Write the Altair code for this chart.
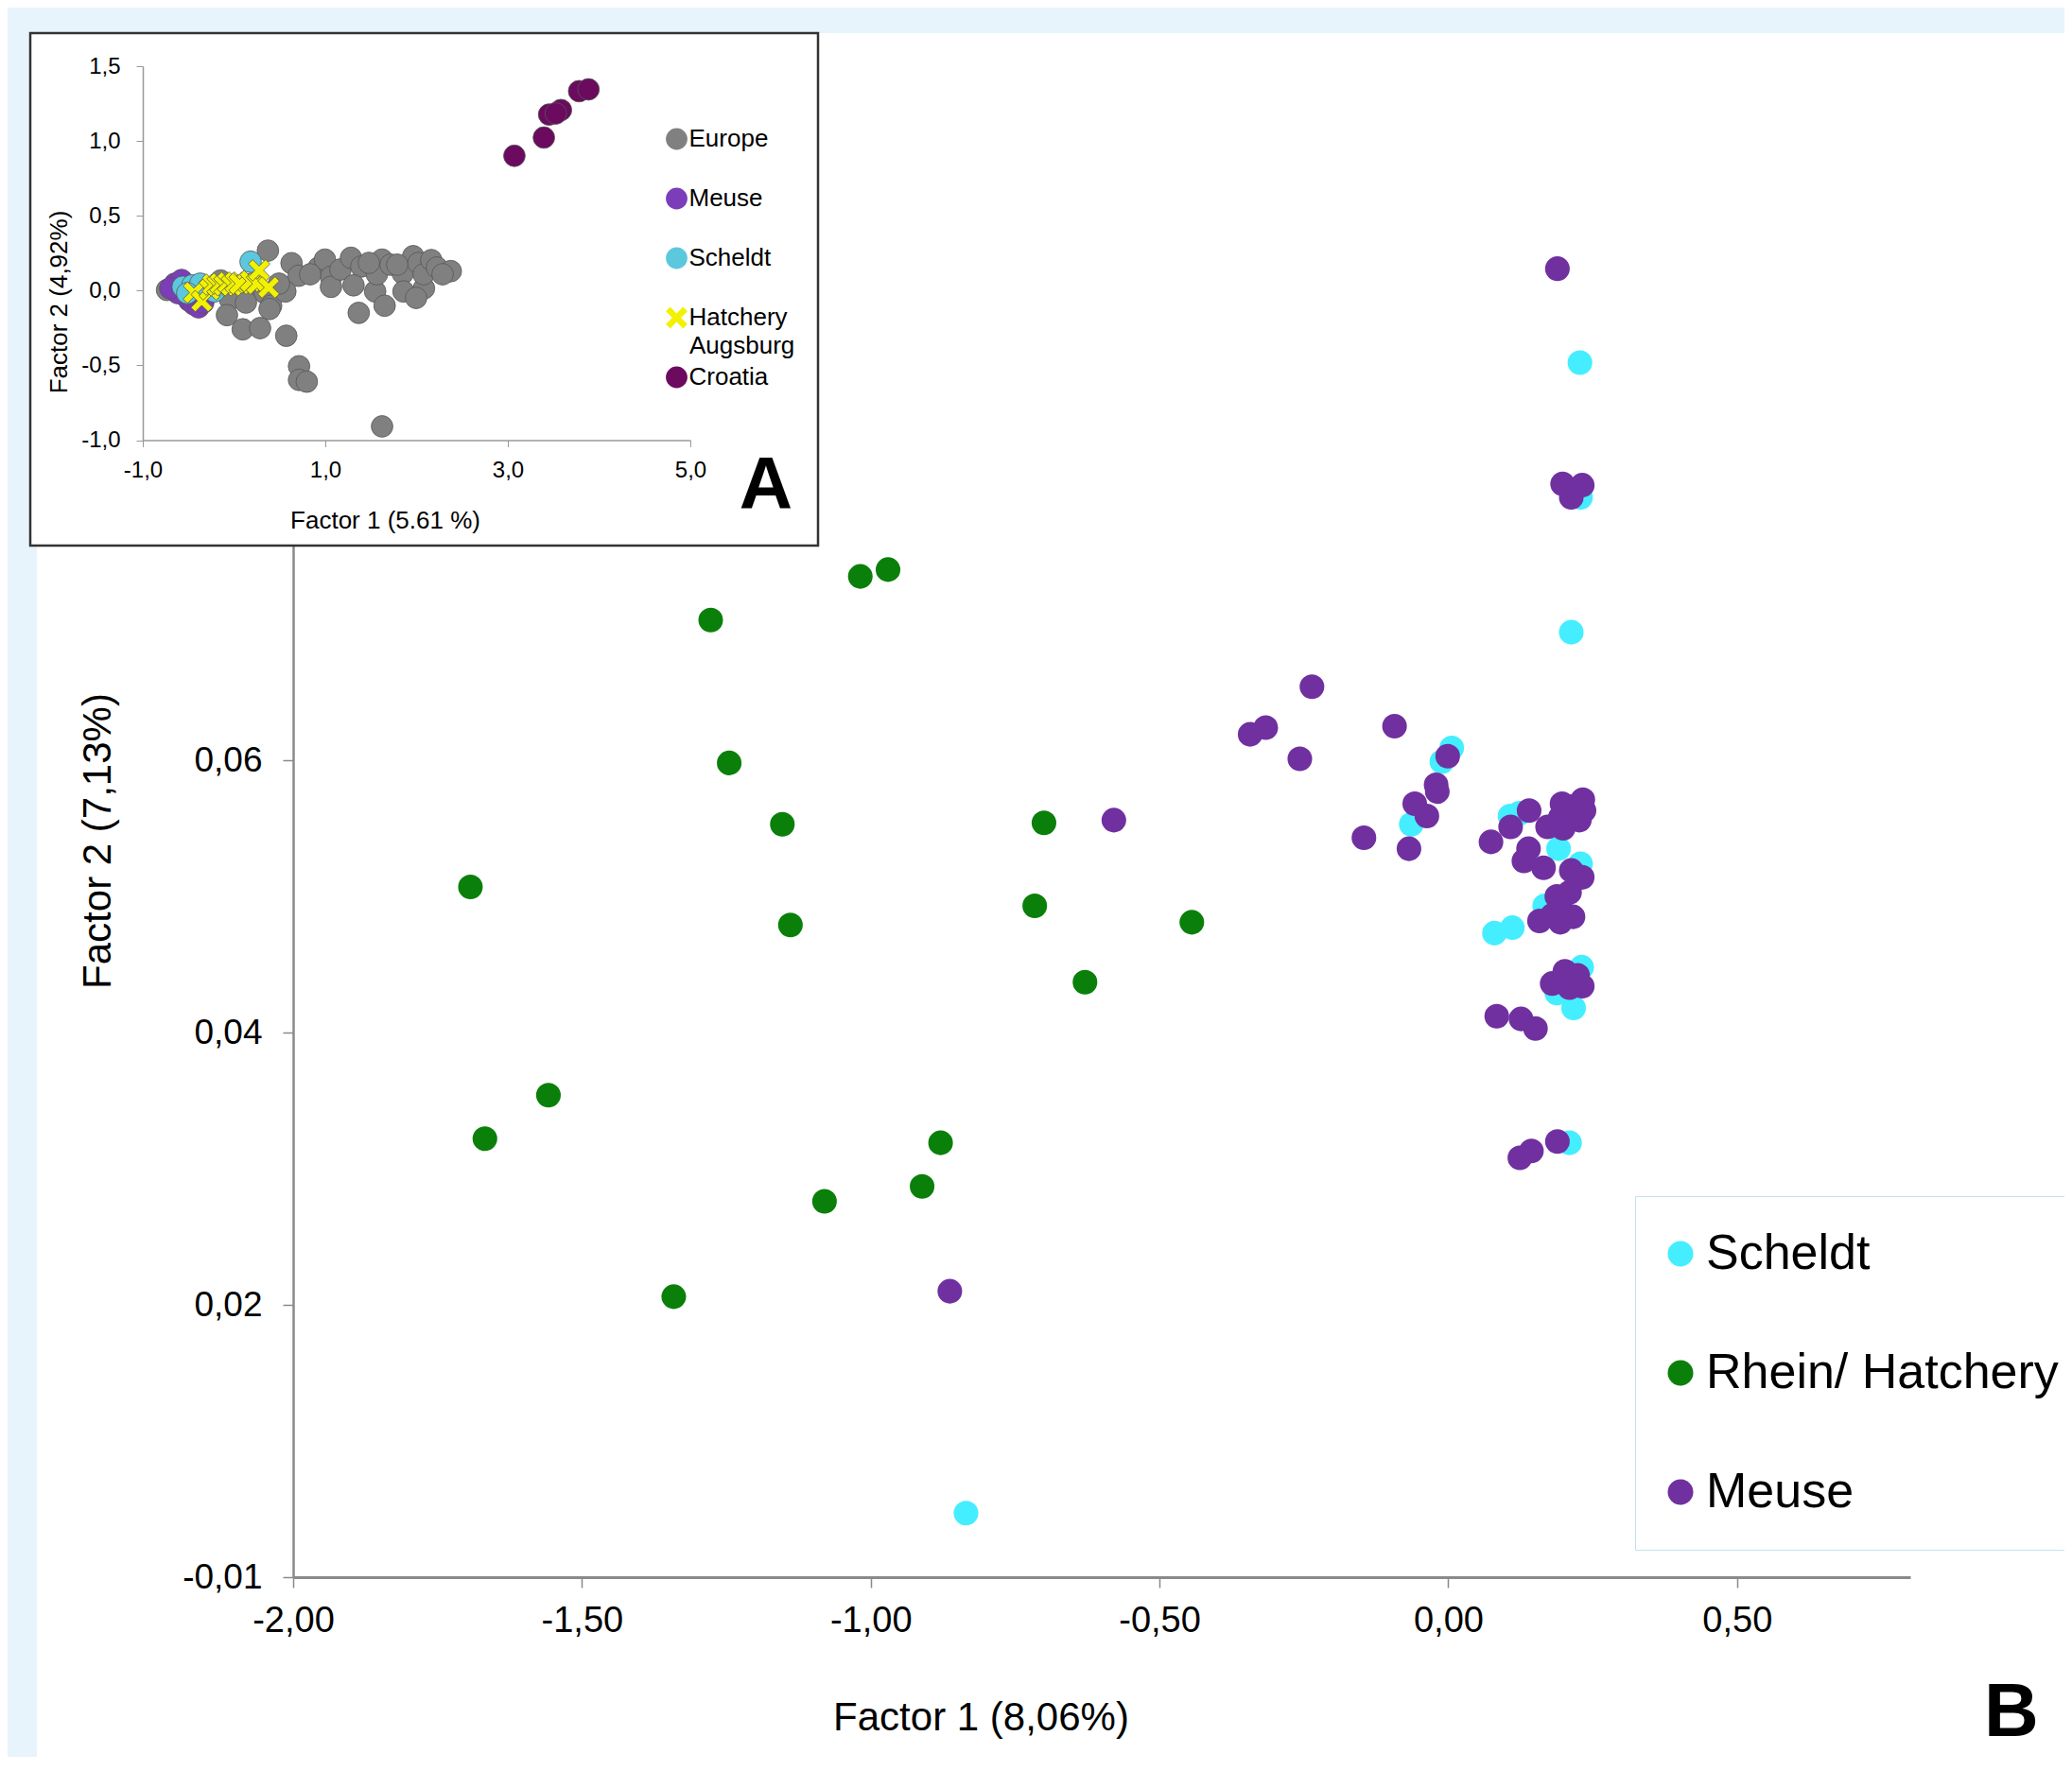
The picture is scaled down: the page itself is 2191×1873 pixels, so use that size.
import altair as alt
import pandas as pd

# ---------------- Panel B (main scatter) ----------------
scheldt_x = [0.228, 0.229, 0.213, 0.006, -0.011, -0.064, 0.107, 0.123, 0.191, 0.229,
             0.167, 0.080, 0.111, 0.231, 0.188, 0.217, 0.210, -0.835]
scheldt_y = [0.0892, 0.0793, 0.0694, 0.0609, 0.0599, 0.0553, 0.0559, 0.0561, 0.0535, 0.0524,
             0.0493, 0.0473, 0.0477, 0.0448, 0.0429, 0.0418, 0.0319, 0.0047]

rhein_x = [-1.018, -0.970, -1.277, -1.245, -1.153, -0.700, -1.693, -1.139, -0.716,
           -0.444, -0.629, -1.558, -1.668, -0.879, -1.080, -0.911, -1.341]
rhein_y = [0.0735, 0.0740, 0.0703, 0.0598, 0.0553, 0.0554, 0.0507, 0.0479, 0.0493,
           0.0481, 0.0437, 0.0354, 0.0322, 0.0319, 0.0276, 0.0287, 0.0206]

meuse_x = [0.189, 0.198, 0.232, 0.213,
           -0.236, -0.343, -0.316, -0.257,
           -0.093, -0.001, -0.021, -0.019, -0.058, -0.037, -0.146, -0.068, -0.579,
           0.074, 0.108, 0.140,
           0.197, 0.233, 0.235, 0.227, 0.199, 0.172, 0.194, 0.210,
           0.139, 0.131, 0.165, 0.213, 0.232, 0.188, 0.210, 0.194,
           0.158, 0.194, 0.216, 0.180,
           0.180, 0.202, 0.224, 0.232, 0.210,
           0.084, 0.126, 0.151,
           0.189, 0.144, 0.124,
           -0.863]
meuse_y = [0.0961, 0.0803, 0.0802, 0.0793,
           0.0654, 0.0619, 0.0624, 0.0601,
           0.0625, 0.0603, 0.0582, 0.0577, 0.0568, 0.0559, 0.0543, 0.0535, 0.0556,
           0.0540, 0.0551, 0.0563,
           0.0568, 0.0571, 0.0563, 0.0556, 0.0550, 0.0551, 0.0558, 0.0566,
           0.0535, 0.0526, 0.0521, 0.0519, 0.0514, 0.0500, 0.0503, 0.0492,
           0.0482, 0.0481, 0.0485, 0.0486,
           0.0436, 0.0445, 0.0442, 0.0434, 0.0433,
           0.0412, 0.0410, 0.0403,
           0.0320, 0.0313, 0.0308,
           0.0210]

main_groups = ["Scheldt", "Rhein/ Hatchery", "Meuse"]
main_colors = ["#44eeff", "#0a800a", "#7030a0"]
main_x_ticks = [-2.0, -1.5, -1.0, -0.5, 0.0, 0.5]
main_y_ticks = [0.0, 0.02, 0.04, 0.06, 0.08, 0.10]

# ---------------- Panel A (inset) ----------------
europe_x = [-0.734, -0.147, 0.026, -0.044, 0.199, 0.337, 0.406, 0.371, 0.630, 0.707,
            0.562, 0.389, -0.078, 0.095, 0.285, 0.572, 0.712, 0.712, 0.797, 1.622,
            0.924, 0.996, 1.062, 1.062, 1.166, 1.281, 1.394, 1.309, 1.366, 1.546,
            1.622, 1.565, 1.650, 1.715, 1.849, 1.857, 1.963, 2.020, 2.081, 1.995,
            2.077, 2.161, 2.223, 2.375, 1.788, 1.477, 0.834, 0.492, 0.130, -0.285,
            -0.492, 2.285]
europe_y = [0.004, 0.067, 0.025, -0.059, 0.046, -0.017, -0.101, 0.267, 0.183, 0.099,
            -0.006, -0.123, -0.164, -0.259, -0.251, -0.302, -0.506, -0.597, -0.609, -0.908,
            0.152, 0.207, 0.092, 0.025, 0.141, 0.219, 0.161, 0.035, -0.149, -0.006,
            0.207, 0.109, -0.101, 0.173, 0.115, -0.006, 0.230, 0.184, 0.015, -0.049,
            0.109, 0.204, 0.154, 0.130, 0.173, 0.185, 0.109, 0.046, -0.080, 0.015,
            -0.017, 0.109]
meuse_a_x = [-0.648, -0.596, -0.544, -0.492, -0.440, -0.389, -0.575, -0.617, -0.337, -0.699]
meuse_a_y = [0.046, 0.015, -0.030, -0.068, -0.093, -0.112, 0.071, -0.017, -0.080, 0.015]
scheldt_a_x = [-0.562, -0.458, -0.371, -0.285, -0.216, 0.181, -0.513]
scheldt_a_y = [0.025, 0.035, 0.046, 0.015, -0.006, 0.193, -0.017]
hatch_x = [-0.440, -0.354, -0.267, -0.233, -0.181, -0.150, -0.106, -0.067, -0.026,
           0.016, 0.060, 0.181, 0.251, 0.275, 0.378]
hatch_y = [-0.013, -0.070, 0.008, 0.040, 0.035, 0.046, 0.035, 0.053, 0.035,
           0.053, 0.046, 0.063, 0.046, 0.135, 0.021]
croatia_x = [3.072, 3.395, 3.452, 3.582, 3.781, 3.884, 3.525]
croatia_y = [0.901, 1.023, 1.177, 1.207, 1.333, 1.345, 1.184]

inset_groups = ["Europe", "Meuse", "Scheldt", "Hatchery", "Croatia"]
inset_colors = ["#808080", "#7b3db8", "#5cc8de", "#f2f200", "#6b0a5e"]
X_PATH = "M-1,-0.6L-0.6,-1L0,-0.4L0.6,-1L1,-0.6L0.4,0L1,0.6L0.6,1L0,0.4L-0.6,1L-1,0.6L-0.4,0Z"
inset_shapes = ["circle", "circle", "circle", X_PATH, "circle"]
inset_sizes = [520, 520, 520, 100, 560]
inset_x_ticks = [-1.0, 1.0, 3.0, 5.0]
inset_y_ticks = [-1.0, -0.5, 0.0, 0.5, 1.0, 1.5]

FONT = "Liberation Sans"

main_df = pd.concat([
    pd.DataFrame({"x": scheldt_x, "y": scheldt_y, "grp": "Scheldt"}),
    pd.DataFrame({"x": rhein_x, "y": rhein_y, "grp": "Rhein/ Hatchery"}),
    pd.DataFrame({"x": meuse_x, "y": meuse_y, "grp": "Meuse"}),
], ignore_index=True)

inset_df = pd.concat([
    pd.DataFrame({"ix": europe_x, "iy": europe_y, "igrp": "Europe"}),
    pd.DataFrame({"ix": meuse_a_x, "iy": meuse_a_y, "igrp": "Meuse"}),
    pd.DataFrame({"ix": scheldt_a_x, "iy": scheldt_a_y, "igrp": "Scheldt"}),
    pd.DataFrame({"ix": hatch_x, "iy": hatch_y, "igrp": "Hatchery"}),
    pd.DataFrame({"ix": croatia_x, "iy": croatia_y, "igrp": "Croatia"}),
], ignore_index=True)

one = pd.DataFrame({"a": [0]})
BLUE = "#e8f4fc"

# light-blue strips (top and left) of the figure background
strip_top = alt.Chart(one).mark_rect(fill=BLUE).encode(
    x=alt.value(-302), x2=alt.value(1900), y=alt.value(-76), y2=alt.value(-49))
strip_left = alt.Chart(one).mark_rect(fill=BLUE).encode(
    x=alt.value(-302), x2=alt.value(-271), y=alt.value(-76), y2=alt.value(1800))

main_pts = alt.Chart(main_df).mark_circle(size=680, opacity=1).encode(
    x=alt.X("x:Q",
            scale=alt.Scale(domain=[-2.0, 0.8], nice=False, zero=False),
            axis=alt.Axis(orient="bottom", values=main_x_ticks, labelFlush=False,
                          labelExpr="(datum.value < 0 ? '-' : '') + replace(format(abs(datum.value), '.2f'), '.', ',')",
                          labelFontSize=38, labelFont=FONT, labelColor="#000000",
                          labelPadding=16, tickSize=11, tickWidth=1.5,
                          tickColor="#8a8a8a", domainColor="#8a8a8a", domainWidth=3,
                          grid=False, title="Factor 1 (8,06%)", titleFontSize=42,
                          titleFont=FONT, titleFontWeight="normal", titleColor="#000000",
                          titleX=727, titleY=148, titleAlign="center", titleBaseline="middle")),
    y=alt.Y("y:Q",
            scale=alt.Scale(domain=[0.0, 0.11], nice=False, zero=False),
            axis=alt.Axis(orient="left", values=main_y_ticks,
                          labelExpr="datum.value == 0 ? '-0,01' : replace(format(datum.value, '.2f'), '.', ',')",
                          labelFontSize=37, labelFont=FONT, labelColor="#000000",
                          labelPadding=22, tickSize=11, tickWidth=1.5,
                          tickColor="#8a8a8a", domainColor="#8a8a8a", domainWidth=2.5,
                          grid=False, title="Factor 2 (7,13%)", titleFontSize=42,
                          titleFont=FONT, titleFontWeight="normal", titleColor="#000000",
                          titleAngle=270, titleX=-207, titleY=805,
                          titleAlign="center", titleBaseline="middle")),
    color=alt.Color("grp:N", sort=main_groups,
                    scale=alt.Scale(domain=main_groups, range=main_colors),
                    legend=alt.Legend(orient="none", legendX=1419, legendY=1181,
                                      title=None, labelFontSize=52, labelFont=FONT,
                                      labelColor="#000000", symbolType="circle",
                                      symbolSize=729, symbolStrokeWidth=0,
                                      symbolOffset={"expr": "-13"},
                                      labelOffset=1,
                                      padding=35, rowPadding=74,
                                      labelLimit=2000, strokeColor="#c4e2ea",
                                      fillColor="#ffffff", zindex=1)),
)

inset_frame = alt.Chart(one).mark_rect(fill="#ffffff", stroke="#333333", strokeWidth=2.5).encode(
    x=alt.value(-278), x2=alt.value(555), y=alt.value(-49), y2=alt.value(493))

inset_legend = alt.Legend(orient="none", legendX=397, legendY=50, title=None,
                          labelFontSize=26, labelFont=FONT, labelColor="#000000",
                          symbolSize=289, symbolStrokeWidth=0, padding=0,
                          rowPadding=37, symbolOffset={"expr": "-4.5"},
                          labelOffset=0, zindex=1)

inset_pts = alt.Chart(inset_df).mark_point(filled=True, opacity=1, stroke="#555555",
                                           strokeWidth=0.8).encode(
    x=alt.X("ix:Q",
            scale=alt.Scale(domain=[-1.0, 5.0], range=[-159, 420], nice=False, zero=False),
            axis=alt.Axis(orient="bottom", offset=-1202.5, values=inset_x_ticks, labelFlush=False,
                          labelExpr="(datum.value < 0 ? '-' : '') + replace(format(abs(datum.value), '.1f'), '.', ',')",
                          labelFontSize=24, labelFont=FONT, labelColor="#000000",
                          labelPadding=13, tickSize=7, tickColor="#999999",
                          domainColor="#999999", domainWidth=1.5, grid=False, zindex=1,
                          title="Factor 1 (5.61 %)", titleFontSize=26, titleFont=FONT,
                          titleFontWeight="normal", titleColor="#000000",
                          titleX=97, titleY=85, titleAlign="center", titleBaseline="middle")),
    y=alt.Y("iy:Q",
            scale=alt.Scale(domain=[-1.0, 1.5], range=[381.5, -14], nice=False, zero=False),
            axis=alt.Axis(orient="left", offset=159, values=inset_y_ticks,
                          labelExpr="(datum.value < 0 ? '-' : '') + replace(format(abs(datum.value), '.1f'), '.', ',')",
                          labelFontSize=24, labelFont=FONT, labelColor="#000000",
                          labelPadding=17, tickSize=7, tickColor="#999999",
                          domainColor="#999999", domainWidth=1.5, grid=False, zindex=1,
                          title="Factor 2 (4,92%)", titleFontSize=26, titleFont=FONT,
                          titleFontWeight="normal", titleColor="#000000", titleAngle=270,
                          titleX=-89, titleY=235, titleAlign="center", titleBaseline="middle")),
    color=alt.Color("igrp:N", sort=inset_groups,
                    scale=alt.Scale(domain=inset_groups, range=inset_colors),
                    legend=inset_legend),
    shape=alt.Shape("igrp:N", sort=inset_groups,
                    scale=alt.Scale(domain=inset_groups, range=inset_shapes),
                    legend=inset_legend),
    size=alt.Size("igrp:N", scale=alt.Scale(domain=inset_groups, range=inset_sizes),
                  legend=None),
)

augsburg = alt.Chart(one).mark_text(text="Augsburg", font=FONT, fontSize=26, align="left",
                                    baseline="middle", color="#000000").encode(
    x=alt.value(419), y=alt.value(282))
letter_a = alt.Chart(one).mark_text(text="A", font=FONT, fontSize=78, fontWeight="bold",
                                    align="center", baseline="middle", color="#000000").encode(
    x=alt.value(500), y=alt.value(431))
letter_b = alt.Chart(one).mark_text(text="B", font=FONT, fontSize=80, fontWeight="bold",
                                    align="center", baseline="middle", color="#000000").encode(
    x=alt.value(1817), y=alt.value(1728))

chart = alt.layer(
    strip_top, strip_left, main_pts, inset_frame, inset_pts, augsburg, letter_a, letter_b
).resolve_scale(
    x="independent", y="independent", color="independent", shape="independent", size="independent"
).properties(
    width=1710, height=1584,
    padding={"left": 302, "top": 76, "right": 163, "bottom": 190},
    autosize=alt.AutoSizeParams(type="none"),
    background="#ffffff",
).configure(font=FONT).configure_view(strokeWidth=0)

chart.save("out.html", embed_options={"renderer": "svg", "actions": False})
